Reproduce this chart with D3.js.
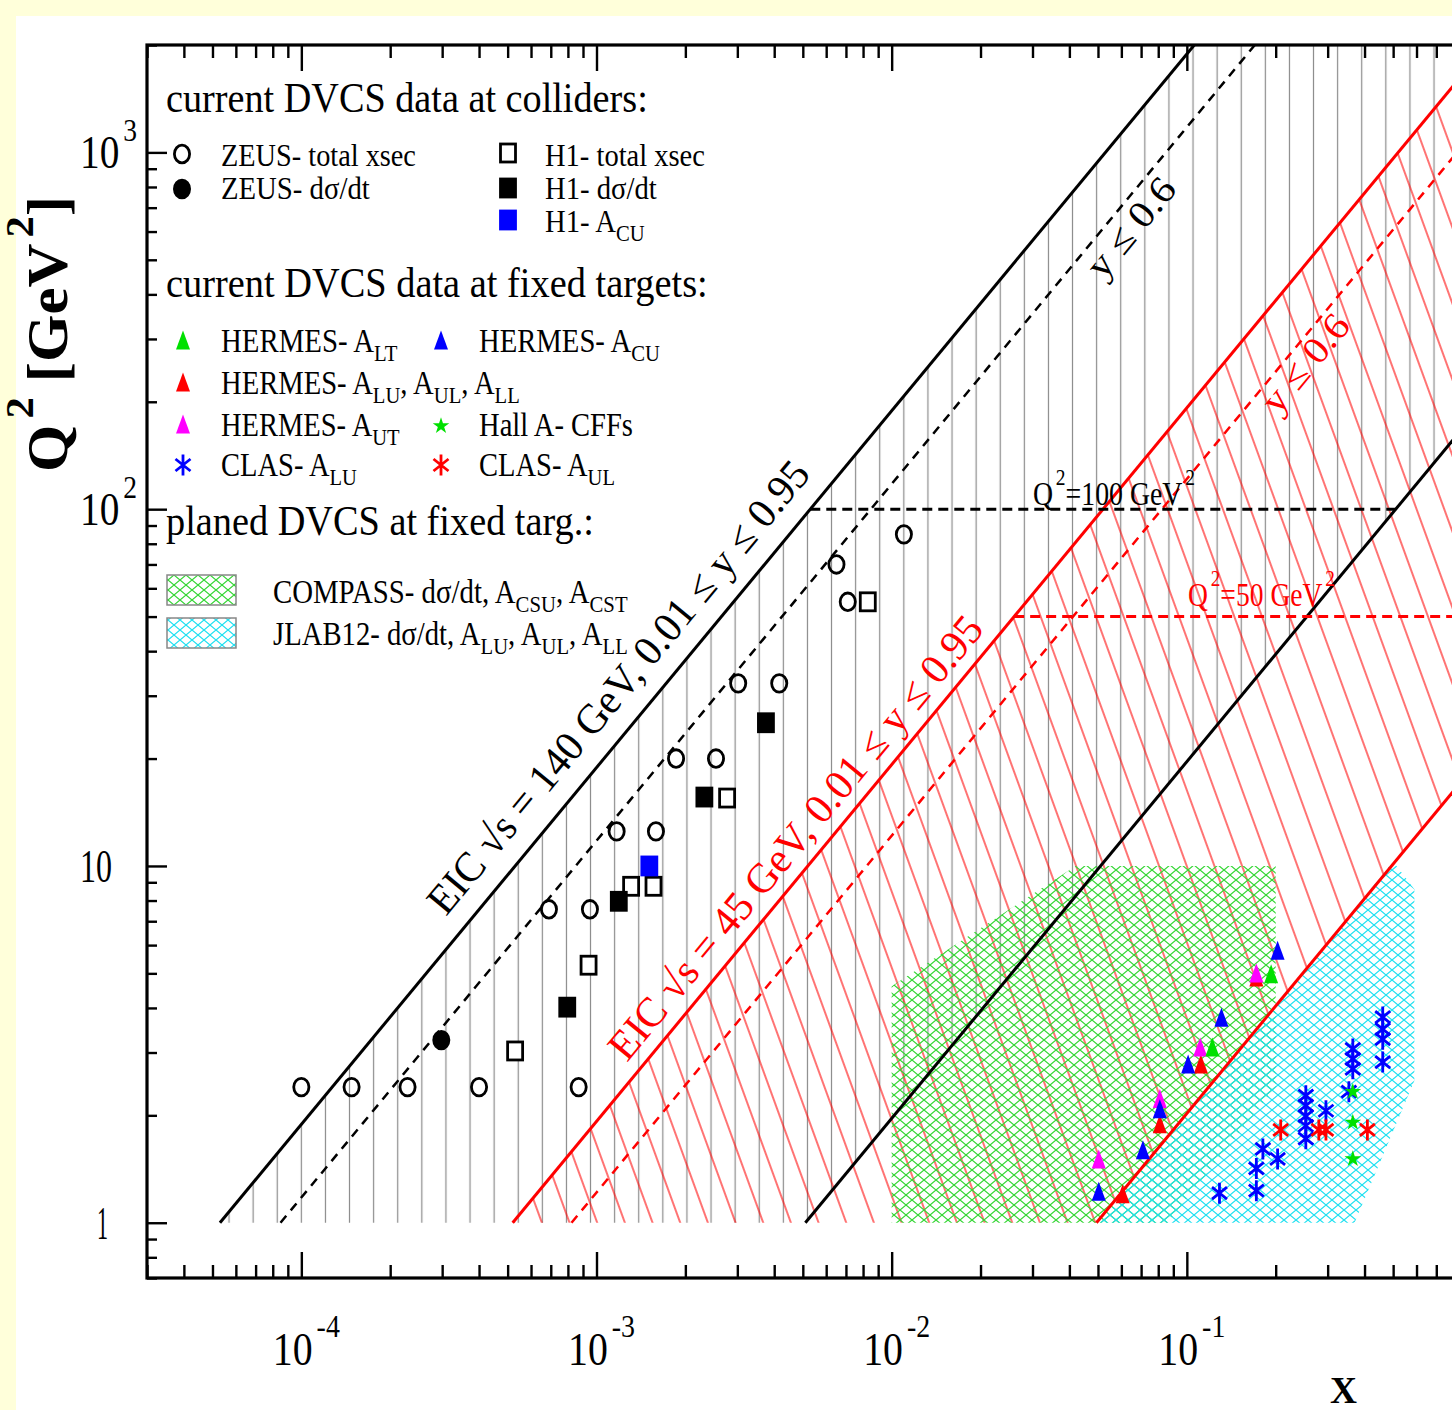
<!DOCTYPE html>
<meta charset="utf-8">
<style>
html, body {
  margin: 0;
  background: #ffffda;
}

.chart {
  display: block;
  font-family: "Liberation Serif", "Times New Roman", serif;
}
</style>
<body>
<svg class="chart js-chart" width="1452" height="1410"></svg>

<script src="https://d3js.org/d3.v7.min.js"></script>
<script>
"use strict";

/* axes */
var xDomain = [3e-5, 1];
var yDomain = [0.7, 2000];
var xMajorTicks = [1e-4, 1e-3, 1e-2, 1e-1, 1];
var xTickLabels = [["10", "-4"], ["10", "-3"], ["10", "-2"], ["10", "-1"], ["1", ""]];
var yMajorTicks = [1, 10, 100, 1000];
var yTickLabels = [["1", ""], ["10", ""], ["10", "2"], ["10", "3"]];

/* EIC acceptance bounds, end points as [x, Q2] */
var eic140yMax = [[5.3e-5, 1], [0.106, 2000]];
var eic140y06 = [[8.5e-5, 1], [0.17, 2000]];
var eic140yMin = [[5.1e-3, 1], [1, 196]];
var eic45yMax = [[5.2e-4, 1], [1, 1923]];
var eic45y06 = [[8.23e-4, 1], [1, 1215]];
var eic45yMin = [[0.0494, 1], [1, 20.25]];
var q2Cut100 = [[5.3e-3, 100], [0.51, 100]];
var q2Cut50 = [[0.026, 50], [1, 50]];

/* planned fixed target coverage */
var compassRegion = [[0.01, 1], [0.01, 4.6], [0.042, 10], [0.2, 10], [0.2, 2.4], [0.086, 1]];
var jlab12Region = [[0.0508, 1], [0.5, 10.3], [0.59, 8.6], [0.59, 2.5], [0.37, 1]];

/* collider data [x, Q2] */
var zeusTotal = [[1e-4, 2.4], [1.48e-4, 2.4], [2.29e-4, 2.4], [4.0e-4, 2.4], [8.7e-4, 2.4],
  [6.9e-4, 7.56], [9.5e-4, 7.56], [1.17e-3, 12.5], [1.59e-3, 12.5], [1.86e-3, 20], [2.54e-3, 20],
  [3.02e-3, 32.5], [4.16e-3, 32.5], [6.5e-3, 70], [7.1e-3, 55], [1.1e-2, 85]];
var zeusDsdt = [[2.98e-4, 3.25]];
var h1Total = [[5.3e-4, 3.03], [9.4e-4, 5.27], [1.31e-3, 8.77], [1.56e-3, 8.77], [2.77e-3, 15.5], [8.3e-3, 55]];
var h1Dsdt = [[7.96e-4, 4.02], [1.19e-3, 7.96], [2.32e-3, 15.6], [3.75e-3, 25.2]];
var h1Acu = [[1.51e-3, 10]];

/* fixed target data [x, Q2] */
var hermesAlt = [[0.193, 4.92], [0.122, 3.07]];
var hermesAcu = [[0.203, 5.73], [0.131, 3.72], [0.101, 2.75], [0.081, 2.06], [0.071, 1.58], [0.0503, 1.21]];
var hermesAlu = [[0.172, 4.82], [0.1115, 2.75], [0.081, 1.87], [0.0606, 1.19]];
var hermesAut = [[0.172, 4.95], [0.111, 3.07], [0.081, 2.2], [0.0503, 1.49]];
var clasAlu = [[0.129, 1.21], [0.172, 1.23], [0.172, 1.42], [0.181, 1.61], [0.203, 1.51],
  [0.253, 2.27], [0.253, 2.13], [0.253, 1.99], [0.253, 1.87], [0.253, 1.72], [0.296, 2.06],
  [0.354, 2.33], [0.365, 3.07], [0.365, 2.88], [0.365, 2.7],
  [0.461, 3.77], [0.461, 3.49], [0.461, 3.27], [0.461, 2.82]];
var clasAul = [[0.208, 1.82], [0.28, 1.82], [0.296, 1.82], [0.409, 1.82]];
var hallA = [[0.365, 2.33], [0.365, 1.91], [0.365, 1.51]];

var plot = { left: 147, top: 45, right: 1482, bottom: 1278 };

var svg = d3.select(".js-chart");

var x = d3.scaleLog().domain(xDomain).range([plot.left, plot.right]);
var y = d3.scaleLog().domain(yDomain).range([plot.bottom, plot.top]);

svg.append("rect")
  .attr("x", 16).attr("y", 16)
  .attr("width", 1452).attr("height", 1410)
  .attr("fill", "#fff");

var defs = svg.append("defs");

defs.append("clipPath").attr("id", "plot-clip")
  .append("rect")
    .attr("x", plot.left).attr("y", plot.top)
    .attr("width", plot.right - plot.left)
    .attr("height", plot.bottom - plot.top);

var vHatch = defs.append("pattern")
  .attr("id", "v-hatch")
  .attr("patternUnits", "userSpaceOnUse")
  .attr("x", x(1e-4) - 12.05).attr("y", 0)
  .attr("width", 24.1).attr("height", 20);
vHatch.append("line")
  .attr("x1", 12.05).attr("x2", 12.05).attr("y1", 0).attr("y2", 20)
  .attr("stroke", "#8a8a8a").attr("stroke-width", 1.2);

var rHatch = defs.append("pattern")
  .attr("id", "r-hatch")
  .attr("patternUnits", "userSpaceOnUse")
  .attr("width", 26).attr("height", 26)
  .attr("patternTransform", "rotate(-20)");
rHatch.append("line")
  .attr("x1", 13).attr("x2", 13).attr("y1", 0).attr("y2", 26)
  .attr("stroke", "#ff0000").attr("stroke-width", 1.1);

function crossPattern(id, color) {
  var p = defs.append("pattern")
    .attr("id", id)
    .attr("patternUnits", "userSpaceOnUse")
    .attr("width", 12).attr("height", 10);
  p.append("path")
    .attr("d", "M0,0L12,10M12,0L0,10")
    .attr("stroke", color).attr("stroke-width", 1.2).attr("fill", "none");
}
crossPattern("x-green", "#33d633");
crossPattern("x-cyan", "#1ee0f0");

var line = d3.line()
  .x(function (d) { return x(d[0]); })
  .y(function (d) { return y(d[1]); });

var area = svg.append("g").attr("clip-path", "url(#plot-clip)");

// 140 GeV band with vertical hatching
area.append("path")
  .attr("d", line([eic140yMax[0], eic140yMax[1], [xDomain[1], yDomain[1]], eic140yMin[1], eic140yMin[0]]) + "Z")
  .attr("fill", "url(#v-hatch)");

// 45 GeV band with slanted red hatching
area.append("path")
  .attr("d", line([eic45yMax[0], eic45yMax[1], eic45yMin[1], eic45yMin[0]]) + "Z")
  .attr("fill", "url(#r-hatch)");

area.append("path")
  .attr("d", line(compassRegion) + "Z")
  .attr("fill", "url(#x-green)");

area.append("path")
  .attr("d", line(jlab12Region) + "Z")
  .attr("fill", "url(#x-cyan)");

var bounds = [
  { pts: eic140yMax, color: "#000", dash: null, w: 3 },
  { pts: eic140y06, color: "#000", dash: "9,7", w: 2.5 },
  { pts: eic140yMin, color: "#000", dash: null, w: 3 },
  { pts: eic45yMax, color: "#f00", dash: null, w: 3 },
  { pts: eic45y06, color: "#f00", dash: "9,7", w: 2.5 },
  { pts: eic45yMin, color: "#f00", dash: null, w: 3 },
  { pts: q2Cut100, color: "#000", dash: "10,6", w: 3 },
  { pts: q2Cut50, color: "#f00", dash: "10,6", w: 3 }
];

area.selectAll(".bound").data(bounds)
  .enter().append("path")
    .attr("class", "bound")
    .attr("d", function (d) { return line(d.pts); })
    .attr("fill", "none")
    .attr("stroke", function (d) { return d.color; })
    .attr("stroke-width", function (d) { return d.w; })
    .attr("stroke-dasharray", function (d) { return d.dash; });

/* marker shapes */
var shapes = {
  circle: function (g, color, filled) {
    g.append("ellipse").attr("rx", 7.6).attr("ry", 8.8)
      .attr("fill", filled ? color : "none")
      .attr("stroke", color).attr("stroke-width", 2.8);
  },
  square: function (g, color, filled) {
    g.append("rect").attr("x", -7.5).attr("y", -9).attr("width", 15).attr("height", 18)
      .attr("fill", filled ? color : "#fff")
      .attr("stroke", color).attr("stroke-width", 2.8);
  },
  triangle: function (g, color) {
    g.append("path").attr("d", "M0,-11.5L7,7.5L-7,7.5Z").attr("fill", color);
  },
  asterisk: function (g, color) {
    g.append("path").attr("d", "M0,-10.5V10.5M-7.5,-6L7.5,6M-7.5,6L7.5,-6")
      .attr("stroke", color).attr("stroke-width", 2.8).attr("fill", "none");
  },
  star: function (g, color) {
    g.append("path").attr("d", d3.symbol().type(d3.symbolStar).size(85)()).attr("fill", color);
  }
};

var series = [
  { data: zeusTotal, shape: "circle", color: "#000", filled: false },
  { data: zeusDsdt, shape: "circle", color: "#000", filled: true },
  { data: h1Total, shape: "square", color: "#000", filled: false },
  { data: h1Dsdt, shape: "square", color: "#000", filled: true },
  { data: h1Acu, shape: "square", color: "#0000ff", filled: true },
  { data: hermesAlu, shape: "triangle", color: "#ff0000" },
  { data: hermesAut, shape: "triangle", color: "#ff00ff" },
  { data: hermesAlt, shape: "triangle", color: "#00e000" },
  { data: hermesAcu, shape: "triangle", color: "#0000ff" },
  { data: clasAlu, shape: "asterisk", color: "#0000ff" },
  { data: clasAul, shape: "asterisk", color: "#ff0000" },
  { data: hallA, shape: "star", color: "#00e000" }
];

var marks = svg.append("g").attr("clip-path", "url(#plot-clip)");
series.forEach(function (s) {
  marks.selectAll(null).data(s.data)
    .enter().append("g")
      .attr("transform", function (d) { return "translate(" + x(d[0]) + "," + y(d[1]) + ")"; })
      .each(function () { shapes[s.shape](d3.select(this), s.color, s.filled); });
});

/* axes and frame */
function isDecade(t) {
  var l = Math.log10(t);
  return Math.abs(l - Math.round(l)) < 1e-6;
}
var xMinor = x.ticks().filter(function (t) { return !isDecade(t); });
var yMinor = y.ticks().filter(function (t) { return !isDecade(t); });

function styleAxis(g) {
  g.select(".domain").remove();
  g.selectAll("line").attr("stroke", "#000").attr("stroke-width", 2.4);
}

svg.append("g").attr("transform", "translate(0," + plot.bottom + ")")
  .call(d3.axisBottom(x).tickValues(xMinor).tickSize(-13).tickFormat("")).call(styleAxis);
svg.append("g").attr("transform", "translate(0," + plot.bottom + ")")
  .call(d3.axisBottom(x).tickValues(xMajorTicks).tickSize(-26).tickFormat("")).call(styleAxis);
svg.append("g").attr("transform", "translate(0," + plot.top + ")")
  .call(d3.axisTop(x).tickValues(xMinor).tickSize(-13).tickFormat("")).call(styleAxis);
svg.append("g").attr("transform", "translate(0," + plot.top + ")")
  .call(d3.axisTop(x).tickValues(xMajorTicks).tickSize(-26).tickFormat("")).call(styleAxis);
svg.append("g").attr("transform", "translate(" + plot.left + ",0)")
  .call(d3.axisLeft(y).tickValues(yMinor).tickSize(-10).tickFormat("")).call(styleAxis);
svg.append("g").attr("transform", "translate(" + plot.left + ",0)")
  .call(d3.axisLeft(y).tickValues(yMajorTicks).tickSize(-20).tickFormat("")).call(styleAxis);

svg.append("rect")
  .attr("x", plot.left).attr("y", plot.top)
  .attr("width", plot.right - plot.left).attr("height", plot.bottom - plot.top)
  .attr("fill", "none").attr("stroke", "#000").attr("stroke-width", 3.2);

/* text helper: parts are [text, "sub"|"sup"|undefined] */
function addLabel(parent, o) {
  var g = parent.append("g")
    .attr("transform", "translate(" + o.x + "," + o.y + ")" + (o.rotate ? " rotate(" + o.rotate + ")" : ""));
  var inner = g.append("g");
  var t = inner.append("text")
    .attr("font-size", o.size)
    .attr("fill", o.color || "#000")
    .attr("font-weight", o.weight || "normal");
  var shift = 0;
  o.parts.forEach(function (p) {
    var part = typeof p === "string" ? [p] : p;
    var target = 0, fs = o.size, dx = 0;
    if (part[1] === "sub") { target = o.size * 0.27; fs = o.size * 0.72; }
    if (part[1] === "sup") { target = -o.size * 0.6; fs = o.size * 0.7; dx = o.size * 0.1; }
    t.append("tspan").text(part[0])
      .attr("font-size", fs)
      .attr("dx", dx)
      .attr("dy", target - shift);
    shift = target;
  });
  var box = t.node().getBBox();
  var k = o.width / box.width;
  var left = o.anchor === "middle" ? -o.width / 2 : 0;
  inner.attr("transform", "translate(" + left + ",0) scale(" + k + ",1) translate(" + (-box.x) + ",0)");
  return g;
}

var labels = svg.append("g");

xMajorTicks.forEach(function (t, i) {
  if (t >= 1) return;
  addLabel(labels, { x: x(t) + 5, y: 1365, size: 46, width: 67, anchor: "middle",
    parts: [xTickLabels[i][0], [xTickLabels[i][1], "sup"]] });
});

yMajorTicks.forEach(function (t, i) {
  var lab = yTickLabels[i];
  var parts = lab[1] ? [lab[0], [lab[1], "sup"]] : [lab[0]];
  var w = lab[1] ? 57 : (lab[0].length === 2 ? 32 : 11);
  var left = lab[0].length === 2 ? 80 : 97;
  addLabel(labels, { x: left, y: y(t) + 16, size: 46, width: w, parts: parts });
});

addLabel(labels, { x: 1330, y: 1403, size: 38, width: 27, weight: "bold", parts: ["X"] });
addLabel(labels, { x: 67, y: 472, size: 56, width: 276, weight: "bold", rotate: -90,
  parts: ["Q", ["2", "sup"], " [GeV", ["2", "sup"], "]"] });

/* legend */
var legend = svg.append("g");
var legendTexts = [
  { x: 166, y: 112, size: 42, width: 482, parts: ["current DVCS data at colliders:"] },
  { x: 221, y: 166, size: 32, width: 195, parts: ["ZEUS- total xsec"] },
  { x: 221, y: 199, size: 32, width: 149, parts: ["ZEUS- d\u03c3/dt"] },
  { x: 545, y: 166, size: 32, width: 160, parts: ["H1- total xsec"] },
  { x: 545, y: 199, size: 32, width: 112, parts: ["H1- d\u03c3/dt"] },
  { x: 545, y: 232, size: 32, width: 100, parts: ["H1- A", ["CU", "sub"]] },
  { x: 166, y: 297, size: 42, width: 542, parts: ["current DVCS data at fixed targets:"] },
  { x: 221, y: 352, size: 33, width: 177, parts: ["HERMES- A", ["LT", "sub"]] },
  { x: 479, y: 352, size: 33, width: 181, parts: ["HERMES- A", ["CU", "sub"]] },
  { x: 221, y: 394, size: 33, width: 299, parts: ["HERMES- A", ["LU", "sub"], [", A"], ["UL", "sub"], [", A"], ["LL", "sub"]] },
  { x: 221, y: 436, size: 33, width: 179, parts: ["HERMES- A", ["UT", "sub"]] },
  { x: 479, y: 436, size: 33, width: 154, parts: ["Hall A- CFFs"] },
  { x: 221, y: 476, size: 33, width: 136, parts: ["CLAS- A", ["LU", "sub"]] },
  { x: 479, y: 476, size: 33, width: 136, parts: ["CLAS- A", ["UL", "sub"]] },
  { x: 166, y: 535, size: 42, width: 428, parts: ["planed DVCS at fixed targ.:"] },
  { x: 273, y: 603, size: 33, width: 355, parts: ["COMPASS- d\u03c3/dt, A", ["CSU", "sub"], [", A"], ["CST", "sub"]] },
  { x: 273, y: 645, size: 33, width: 355, parts: ["JLAB12- d\u03c3/dt, A", ["LU", "sub"], [", A"], ["UL", "sub"], [", A"], ["LL", "sub"]] }
];
legendTexts.forEach(function (o) { addLabel(legend, o); });

var legendSymbols = [
  { x: 182, y: 154, shape: "circle", color: "#000", filled: false },
  { x: 182, y: 189, shape: "circle", color: "#000", filled: true },
  { x: 508, y: 153, shape: "square", color: "#000", filled: false },
  { x: 508, y: 188, shape: "square", color: "#000", filled: true },
  { x: 508, y: 220, shape: "square", color: "#0000ff", filled: true },
  { x: 183, y: 342, shape: "triangle", color: "#00e000" },
  { x: 441, y: 342, shape: "triangle", color: "#0000ff" },
  { x: 183, y: 384, shape: "triangle", color: "#ff0000" },
  { x: 183, y: 426, shape: "triangle", color: "#ff00ff" },
  { x: 441, y: 426, shape: "star", color: "#00e000" },
  { x: 183, y: 465, shape: "asterisk", color: "#0000ff" },
  { x: 441, y: 465, shape: "asterisk", color: "#ff0000" }
];
legendSymbols.forEach(function (s) {
  var g = legend.append("g").attr("transform", "translate(" + s.x + "," + s.y + ")");
  shapes[s.shape](g, s.color, s.filled);
});

[["x-green", 575], ["x-cyan", 618]].forEach(function (b) {
  legend.append("rect")
    .attr("x", 167).attr("y", b[1]).attr("width", 69).attr("height", 30)
    .attr("fill", "url(#" + b[0] + ")")
    .attr("stroke", "#888").attr("stroke-width", 1.5);
});

/* annotations along the acceptance bounds */
var slope = -Math.atan2(y(1) - y(10), x(1e-3) - x(1e-4)) * 180 / Math.PI;
var notes = svg.append("g");
addLabel(notes, { x: 446, y: 917, size: 42, width: 574, rotate: slope, color: "#000",
  parts: ["EIC \u221as = 140 GeV, 0.01 \u2264 y \u2264 0.95"] });
addLabel(notes, { x: 627, y: 1063, size: 42, width: 562, rotate: slope, color: "#f00",
  parts: ["EIC \u221as = 45 GeV, 0.01 \u2264 y \u2264 0.95"] });
addLabel(notes, { x: 1103, y: 281, size: 38, width: 118, rotate: slope, color: "#000",
  parts: ["y \u2264 0.6"] });
addLabel(notes, { x: 1278, y: 416, size: 38, width: 116, rotate: slope, color: "#f00",
  parts: ["y \u2264 0.6"] });
addLabel(notes, { x: 1033, y: 505, size: 34, width: 162, color: "#000",
  parts: ["Q", ["2", "sup"], "=100 GeV", ["2", "sup"]] });
addLabel(notes, { x: 1188, y: 606, size: 34, width: 147, color: "#f00",
  parts: ["Q", ["2", "sup"], "=50 GeV", ["2", "sup"]] });
</script>
</body>
